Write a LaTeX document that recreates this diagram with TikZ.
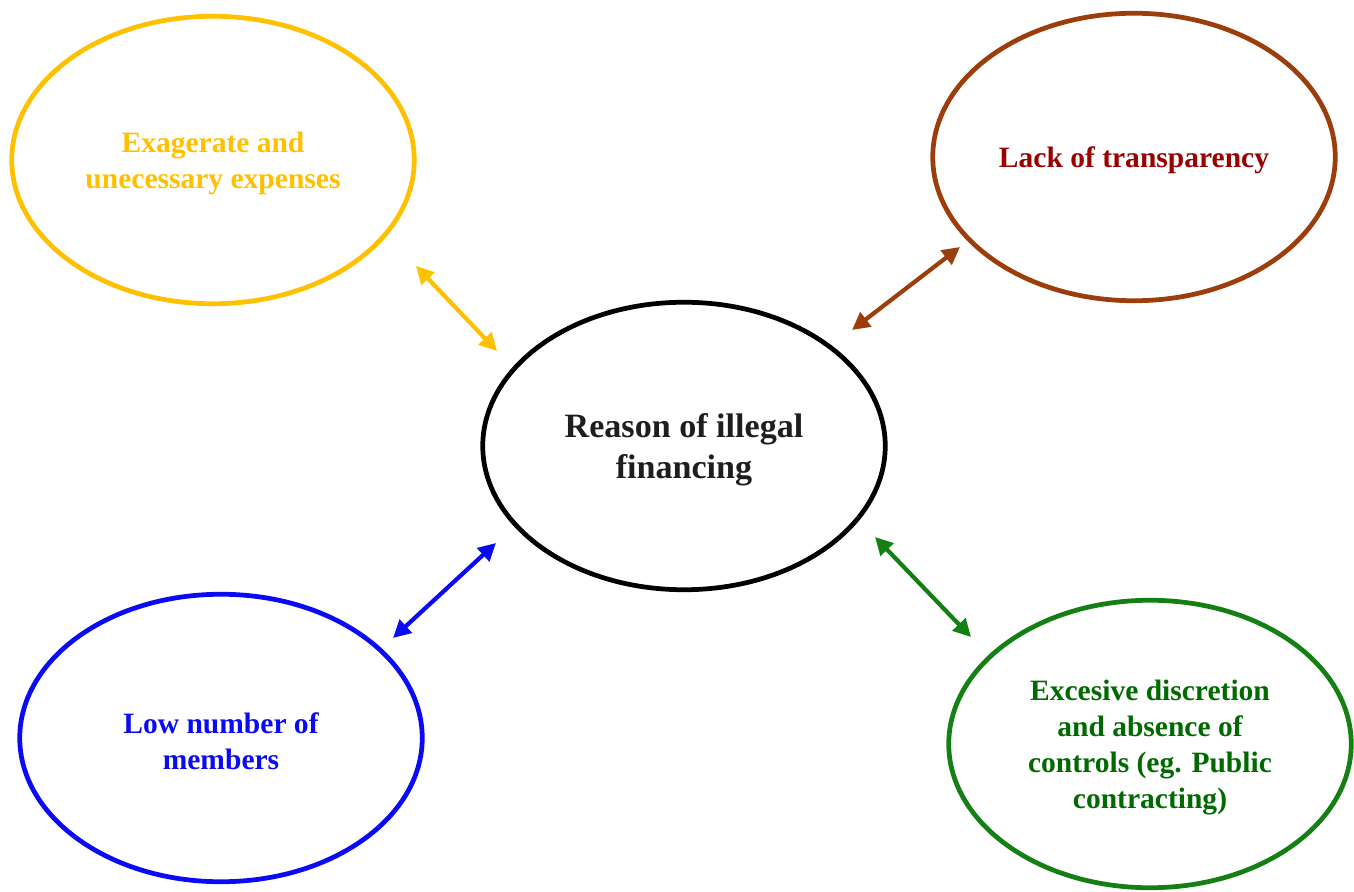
\documentclass[tikz,border=0pt]{standalone}
\usepackage{fontspec}
\setmainfont{Liberation Serif}
\usetikzlibrary{arrows.meta}
\usetikzlibrary{shapes.geometric}

\definecolor{yellowline}{RGB}{255,192,0}
\definecolor{brownline}{RGB}{155,62,12}
\definecolor{browntext}{RGB}{153,0,0}
\definecolor{blueline}{RGB}{10,10,245}
\definecolor{greenline}{RGB}{20,128,20}
\definecolor{greentext}{RGB}{0,105,0}
\definecolor{centertext}{RGB}{30,30,30}

\newcommand{\topgap}{\rule{0pt}{0.95em}}

\begin{document}
\begin{tikzpicture}[x=0.2mm, y=-0.2mm,
    bubble/.style={draw, ellipse, line width=2.7pt, inner sep=0pt, align=center,
                   minimum width=8.05cm, minimum height=5.75cm, font=\bfseries\fontsize{16.8}{20.5}\selectfont},
    link/.style={line width=2.4pt, {Triangle[length=10pt,width=10pt]}-{Triangle[length=10pt,width=10pt]}}]
          \useasboundingbox (0,0) rectangle (1354,892);

          \node [bubble, black, text=centertext, font=\bfseries\fontsize{19.4}{23.3}\selectfont] (reason) at (684,446) {\topgap Reason of illegal\\financing}; % Draws an ellipse

          \node [bubble, yellowline] (expenses) at (213,160) {\topgap Exagerate and\\unecessary expenses}; % Draws an ellipse
          \node [bubble, brownline, text=browntext] (transparency) at (1134,157) {\topgap Lack of transparency}; % Draws an ellipse

          \node [bubble, blueline] (members) at (221,738) {\topgap Low number of\\members}; % Draws an ellipse
          \node [bubble, greenline, text=greentext] (discretion) at (1150,744) {\topgap Excesive discretion\\and absence of\\controls (eg. Public\\contracting)}; % Draws an ellipse

          \coordinate (expenses end) at (416,266);
          \coordinate (expenses start) at (497,351);
          \coordinate (transparency end) at (960,247);
          \coordinate (transparency start) at (852,330);
          \coordinate (members end) at (393,638);
          \coordinate (members start) at (496,543);
          \coordinate (discretion end) at (971,637);
          \coordinate (discretion start) at (875,537);

          \draw [link, yellowline] (expenses start) to (expenses end);
          \draw [link, brownline] (transparency start) to (transparency end);

          \draw [link, blueline] (members start) to (members end);
          \draw [link, greenline] (discretion start) to (discretion end);
        \end{tikzpicture}
\end{document}
